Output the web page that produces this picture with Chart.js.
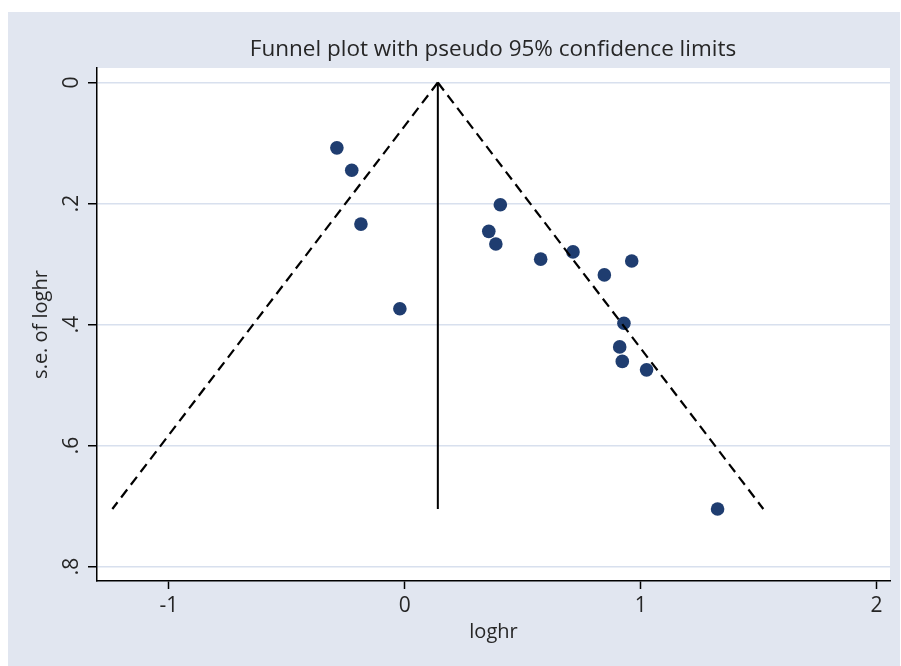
<!DOCTYPE html>
<html>
<head>
<meta charset="utf-8">
<script src="https://cdn.jsdelivr.net/npm/chart.js@4/dist/chart.umd.min.js"></script>
<style>
  html, body { margin: 0; padding: 0; background: #ffffff; }
  #funnel { display: block; }
</style>
</head>
<body>
<canvas id="funnel" width="901" height="666"></canvas>
<script>
// study estimates
var logHR = [-0.288, -0.225, -0.186, -0.021, 0.405, 0.356, 0.386, 0.576, 0.713, 0.846, 0.962, 0.929, 0.911, 0.922, 1.025, 1.326];
var seLogHR = [0.108, 0.145, 0.234, 0.374, 0.202, 0.246, 0.267, 0.292, 0.280, 0.318, 0.295, 0.398, 0.437, 0.461, 0.475, 0.705];

// pooled estimate and pseudo 95% limits (end points)
var pooledX = [0.14, 0.14];
var pooledSe = [0, 0.705];
var limitLeftX = [0.14, -1.24];
var limitRightX = [0.14, 1.52];
var limitSe = [0, 0.705];

var xTicks = [-1, 0, 1, 2];
var xTickLabels = ['-1', '0', '1', '2'];
var yTicks = [0, 0.2, 0.4, 0.6, 0.8];
var yTickLabels = ['0', '.2', '.4', '.6', '.8'];

var fontFamily = "'Open Sans', 'Noto Sans', sans-serif";
var textColor = '#262626';
var bgColor = '#e1e6f0';
var gridColor = '#d8e0ee';

function toPoints (xs, ys) {
  var pts = [];
  for (let i = 0; i < xs.length; i++) {
    pts.push({ x: xs[i], y: ys[i] });
  }
  return pts;
}

var backdrop = {
  id: 'backdrop',
  beforeDraw: function (chart) {
    const ctx = chart.ctx;
    const area = chart.chartArea;
    ctx.save();
    ctx.fillStyle = '#ffffff';
    ctx.fillRect(0, 0, chart.width, chart.height);
    ctx.fillStyle = bgColor;
    ctx.fillRect(8, 12, chart.width - 9, chart.height - 12);
    ctx.fillStyle = '#ffffff';
    ctx.fillRect(area.left, area.top, area.right - area.left, area.bottom - area.top);
    ctx.restore();
  },
  afterDraw: function (chart) {
    const ctx = chart.ctx;
    const yScale = chart.scales.y;
    ctx.save();
    ctx.fillStyle = textColor;
    // title
    ctx.font = '22.5px ' + fontFamily;
    ctx.textAlign = 'center';
    ctx.textBaseline = 'middle';
    ctx.fillText('Funnel plot with pseudo 95% confidence limits', 493, 50);
    // rotated y tick labels
    ctx.font = '21px ' + fontFamily;
    for (let i = 0; i < yTicks.length; i++) {
      const py = yScale.getPixelForValue(yTicks[i]);
      ctx.save();
      ctx.translate(72, py);
      ctx.rotate(-Math.PI / 2);
      ctx.fillText(yTickLabels[i], 0, 0);
      ctx.restore();
    }
    ctx.restore();
  }
};

var ctx = document.getElementById('funnel').getContext('2d');
var funnelChart = new Chart(ctx, {
  type: 'scatter',
  data: {
    datasets: [
      {
        label: 'lower limit',
        data: toPoints(limitLeftX, limitSe),
        showLine: true,
        borderColor: '#000000',
        borderWidth: 2.2,
        borderDash: [10, 6],
        pointRadius: 0
      },
      {
        label: 'upper limit',
        data: toPoints(limitRightX, limitSe),
        showLine: true,
        borderColor: '#000000',
        borderWidth: 2.2,
        borderDash: [10, 6],
        pointRadius: 0
      },
      {
        label: 'pooled',
        data: toPoints(pooledX, pooledSe),
        showLine: true,
        borderColor: '#000000',
        borderWidth: 2,
        pointRadius: 0
      },
      {
        label: 'studies',
        data: toPoints(logHR, seLogHR),
        backgroundColor: '#1f3d70',
        borderWidth: 0,
        pointRadius: 6.8,
        pointHoverRadius: 6.8
      }
    ]
  },
  options: {
    responsive: false,
    animation: false,
    devicePixelRatio: 1,
    layout: { padding: { top: 68, right: 11, left: 0, bottom: 0 } },
    plugins: {
      legend: { display: false },
      tooltip: { enabled: false },
      title: { display: false }
    },
    scales: {
      x: {
        type: 'linear',
        min: -1.305,
        max: 2.057,
        afterBuildTicks: function (scale) {
          scale.ticks = xTicks.map(function (v) { return { value: v }; });
        },
        afterFit: function (scale) { scale.height = 85; },
        ticks: {
          color: textColor,
          font: { family: fontFamily, size: 21 },
          padding: 4,
          maxRotation: 0,
          callback: function (value) {
            const i = xTicks.indexOf(value);
            return i >= 0 ? xTickLabels[i] : '';
          }
        },
        grid: {
          drawOnChartArea: false,
          drawTicks: true,
          tickLength: 8,
          tickColor: '#000000',
          tickWidth: 1.5
        },
        border: { display: true, color: '#000000', width: 1.5 },
        title: {
          display: true,
          text: 'loghr',
          color: textColor,
          font: { family: fontFamily, size: 20 },
          padding: { top: 0, bottom: 22 }
        }
      },
      y: {
        type: 'linear',
        reverse: true,
        min: -0.024,
        max: 0.824,
        afterBuildTicks: function (scale) {
          scale.ticks = yTicks.map(function (v) { return { value: v }; });
        },
        afterFit: function (scale) { scale.width = 97; },
        ticks: { display: false },
        grid: {
          drawOnChartArea: true,
          color: gridColor,
          lineWidth: 1.5,
          drawTicks: true,
          tickLength: 9,
          tickColor: '#000000',
          tickWidth: 1.5
        },
        border: { display: true, color: '#000000', width: 1.5 },
        title: {
          display: true,
          text: 's.e. of loghr',
          color: textColor,
          font: { family: fontFamily, size: 20 },
          padding: { top: 29, bottom: 0 }
        }
      }
    }
  },
  plugins: [backdrop]
});
</script>
</body>
</html>
